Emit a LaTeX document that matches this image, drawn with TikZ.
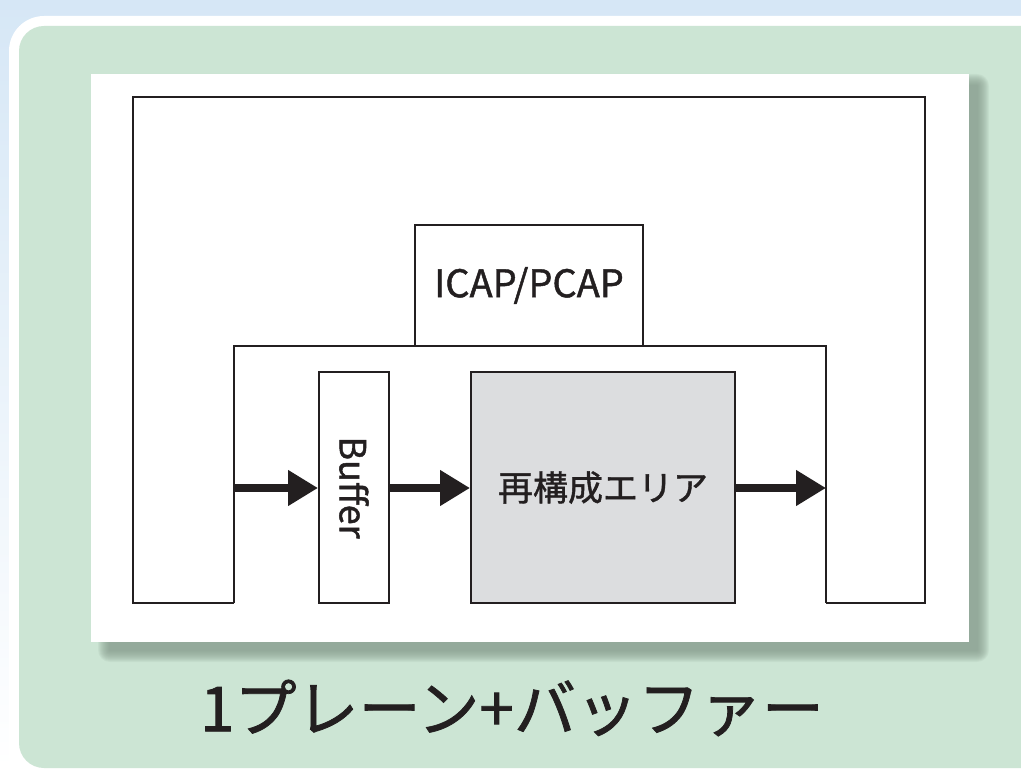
\documentclass[tikz,border=0pt]{standalone}
\usepackage{fontspec}
\setmainfont{Noto Sans CJK JP}[FakeBold=1.2]
\usetikzlibrary{arrows.meta}

\definecolor{skyblue}{HTML}{D6E7F6}
\definecolor{mintgreen}{HTML}{CCE5D4}
\definecolor{shadowgreen}{HTML}{84998A}
\definecolor{inkblack}{HTML}{231F20}
\definecolor{areagray}{HTML}{DCDDDF}

\begin{document}
\begin{tikzpicture}[x=1pt, y=-1pt,
    framebox/.style={rectangle, draw=inkblack, line width=2pt, fill=white, inner sep=0pt, text=inkblack, font=\fontsize{35}{40}\selectfont},
    areabox/.style={framebox, fill=areagray},
    frameline/.style={draw=inkblack, line width=2pt},
    flow/.style={draw=inkblack, line width=8pt, -{Triangle[length=30pt, width=34pt]}}
   ]
  \useasboundingbox (0,0) rectangle (1021,770);

  % background card
  \shade[top color=skyblue, bottom color=white] (0,0) rectangle (1021,770);
  \fill[white, rounded corners=35pt] (9,16) rectangle (1060,800);
  \fill[mintgreen, rounded corners=25pt] (19,26) rectangle (1050,768);

  % panel with soft shadow
  \foreach \i in {1,...,12}
    \fill[shadowgreen, opacity=0.1, rounded corners=\i pt] (110-\i,86-\i) rectangle (977+\i,650+\i);
  \fill[white] (91,74) rectangle (969,642);

  % frame lines
  \draw[frameline] (234,603) -- (133,603) -- (133,97) -- (925,97) -- (925,603) -- (826,603);
  \draw[frameline] (234,603) -- (234,346) -- (826,346) -- (826,603);
  \coordinate (inleft) at (234,488);
  \coordinate (outright) at (826,488);

  \node[framebox, minimum width=228pt, minimum height=121pt, font=\fontsize{38}{42}\selectfont] (icap) at (529,285.5) {ICAP/PCAP};
  \node[framebox, minimum width=70pt, minimum height=231pt] (buffer) at (354,487.5) {};
  \node[rotate=-90, text=inkblack, font=\fontsize{36}{40}\selectfont] (bufferlabel) at (buffer.center) {Buffer};
  \node[areabox, minimum width=264pt, minimum height=231pt] (area) at (603,487.5) {再構成エリア};

  \draw[flow] (inleft) -- (buffer.west |- inleft);
  \draw[flow] (buffer.east |- inleft) -- (area.west |- inleft);
  \draw[flow] (area.east |- inleft) -- (outright);

  \node[font=\fontsize{62}{68}\selectfont, text=inkblack] (title) at (512,708) {1プレーン+バッファー};
\end{tikzpicture}
\end{document}
